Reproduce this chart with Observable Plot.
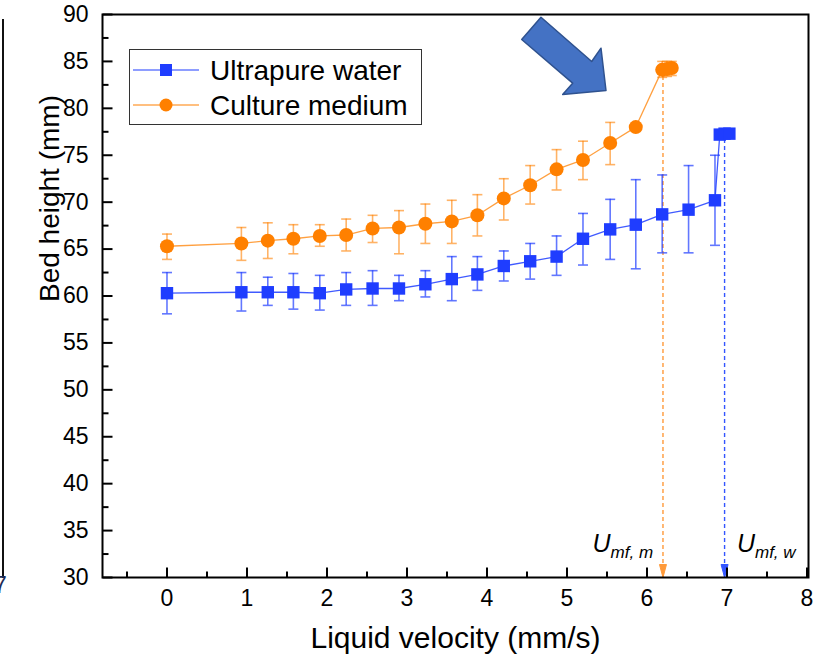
<!DOCTYPE html>
<html><head><meta charset="utf-8">
<script src="https://cdn.jsdelivr.net/npm/d3@7"></script>
<script src="https://cdn.jsdelivr.net/npm/@observablehq/plot@0.6"></script>
<style>
html,body{margin:0;padding:0;background:#fff;}
#wrap{position:relative;width:816px;height:661px;overflow:hidden;font-family:"Liberation Sans",Arial,sans-serif;background:#fff;}
#wrap svg{position:absolute;left:0;top:0;}
#edge{position:absolute;left:2px;top:19px;width:2px;height:559px;background:#111;}
#edge7{position:absolute;left:-6px;top:574px;font-size:23px;line-height:23px;color:#1d2b55;}
</style></head><body>
<div id="wrap"></div>
<script>
// ---- data ----
const velocityWater = [0, 0.93, 1.26, 1.58, 1.91, 2.24, 2.57, 2.9, 3.23, 3.56, 3.88, 4.21, 4.54, 4.87, 5.2, 5.54, 5.86, 6.19, 6.52, 6.85, 6.91, 6.97, 7.03];
const heightWater   = [60.3, 60.4, 60.4, 60.4, 60.3, 60.7, 60.8, 60.8, 61.25, 61.8, 62.3, 63.2, 63.7, 64.2, 66.1, 67.1, 67.6, 68.7, 69.2, 70.2, 77.2, 77.3, 77.3];
const highWater     = [62.5, 62.5, 62.0, 62.4, 62.2, 62.5, 62.7, 62.2, 62.7, 64.2, 64.2, 64.8, 65.6, 66.4, 68.8, 70.3, 72.4, 72.9, 73.9, 75.0, 77.6, 77.6, 77.6];
const lowWater      = [58.1, 58.4, 59.0, 58.6, 58.5, 59.0, 59.0, 59.5, 59.9, 59.5, 60.6, 61.6, 61.8, 62.2, 63.3, 63.9, 62.9, 64.6, 64.6, 65.4, 76.9, 77.0, 77.0];

const velocityMedium = [0, 0.93, 1.26, 1.58, 1.91, 2.24, 2.57, 2.9, 3.23, 3.56, 3.88, 4.21, 4.54, 4.87, 5.2, 5.54, 5.86, 6.19, 6.25, 6.31];
const heightMedium   = [65.3, 65.6, 65.9, 66.1, 66.4, 66.5, 67.2, 67.3, 67.7, 67.95, 68.6, 70.4, 71.8, 73.5, 74.5, 76.3, 78.0, 84.1, 84.2, 84.3];
const highMedium     = [66.6, 67.3, 67.8, 67.6, 67.6, 68.2, 68.6, 69.1, 69.8, 70.2, 70.8, 72.5, 73.9, 75.6, 76.5, 78.5, 78.2, 85.0, 85.0, 85.0];
const lowMedium      = [63.9, 63.8, 64.0, 64.5, 65.3, 64.8, 65.7, 64.5, 65.6, 65.6, 66.4, 68.1, 69.8, 71.3, 72.4, 74.0, 77.8, 83.3, 83.4, 83.5];

const seriesNames = ["Ultrapure water", "Culture medium"];
const xTickLabels = [0, 1, 2, 3, 4, 5, 6, 7, 8];
const xMinorTicks = [-0.5, 0.5, 1.5, 2.5, 3.5, 4.5, 5.5, 6.5, 7.5];
const yTickLabels = [30, 35, 40, 45, 50, 55, 60, 65, 70, 75, 80, 85, 90];
const yMinorTicks = [32.5, 37.5, 42.5, 47.5, 52.5, 57.5, 62.5, 67.5, 72.5, 77.5, 82.5, 87.5];

// minimum fluidization velocities (dashed markers) and their tops
const umfVelocity = [6.2, 6.97];
const umfTop      = [84.1, 77.2];
const umfNames    = ["mf, m", "mf, w"];
const umfLabelX   = [5.32, 7.125];

// block arrow annotation (data coordinates)
const arrowX = [4.675, 5.309, 5.425, 5.4875, 4.946, 5.071, 4.434, 4.675];
const arrowY = [89.71, 84.99, 86.41, 81.90, 81.47, 82.68, 87.34, 89.71];

const BLUE = "#1f3dff";
const ORANGE = "#ff8000";

const water = velocityWater.map((v, i) => ({v, h: heightWater[i], hi: highWater[i], lo: lowWater[i]}));
const medium = velocityMedium.map((v, i) => ({v, h: heightMedium[i], hi: highMedium[i], lo: lowMedium[i]}));
const umf = umfVelocity.map((x, i) => ({x, top: umfTop[i], name: umfNames[i], lx: umfLabelX[i], color: i === 0 ? "#ff9a3a" : "#3355ff"}));
const arrow = arrowX.map((x, i) => ({x, y: arrowY[i]}));

const cap = {draw(c) { c.moveTo(-5, 0); c.lineTo(5, 0); }};
const xMajor = {draw(c) { c.moveTo(0, 0); c.lineTo(0, -10); }};
const xMinor = {draw(c) { c.moveTo(0, 0); c.lineTo(0, -6); }};
const yMajor = {draw(c) { c.moveTo(0, 0); c.lineTo(10, 0); }};
const yMinor = {draw(c) { c.moveTo(0, 0); c.lineTo(6, 0); }};
const headDown = {draw(c) { c.moveTo(-3.5, -13); c.lineTo(3.5, -13); c.lineTo(0, 0); c.closePath(); }};

const X0 = -0.806, Y0 = 30;

const plot = Plot.plot({
  width: 816, height: 661,
  marginLeft: 102, marginRight: 8, marginTop: 14, marginBottom: 84,
  style: {fontFamily: "'Liberation Sans', Arial, sans-serif", fontSize: "23px", background: "transparent", color: "#000"},
  x: {domain: [X0, 8.019]},
  y: {domain: [30, 90]},
  marks: [
    // arrow annotation
    Plot.line(arrow, {x: "x", y: "y", fill: "#4472c4", stroke: "#2f528f", strokeWidth: 1.5}),
    // dashed Umf markers
    Plot.ruleX(umf, {x: "x", y1: Y0, y2: "top", stroke: "color", strokeDasharray: "4,3", strokeWidth: 1.4}),
    Plot.dot(umf, {x: "x", y: Y0, symbol: headDown, fill: "color", stroke: "color", strokeWidth: 1, r: 5}),
    // error bars
    Plot.ruleX(medium, {x: "v", y1: "lo", y2: "hi", stroke: ORANGE, strokeOpacity: 0.6, strokeWidth: 1.6}),
    Plot.dot(medium, {x: "v", y: "hi", symbol: cap, fill: "none", stroke: ORANGE, strokeOpacity: 0.6, strokeWidth: 1.6, r: 5}),
    Plot.dot(medium, {x: "v", y: "lo", symbol: cap, fill: "none", stroke: ORANGE, strokeOpacity: 0.6, strokeWidth: 1.6, r: 5}),
    Plot.ruleX(water, {x: "v", y1: "lo", y2: "hi", stroke: BLUE, strokeOpacity: 0.7, strokeWidth: 1.6}),
    Plot.dot(water, {x: "v", y: "hi", symbol: cap, fill: "none", stroke: BLUE, strokeOpacity: 0.7, strokeWidth: 1.6, r: 5}),
    Plot.dot(water, {x: "v", y: "lo", symbol: cap, fill: "none", stroke: BLUE, strokeOpacity: 0.7, strokeWidth: 1.6, r: 5}),
    // lines + symbols
    Plot.line(medium, {x: "v", y: "h", stroke: ORANGE, strokeOpacity: 0.75, strokeWidth: 1.3}),
    Plot.dot(medium, {x: "v", y: "h", symbol: "circle", r: 7, fill: ORANGE}),
    Plot.line(water, {x: "v", y: "h", stroke: BLUE, strokeOpacity: 0.85, strokeWidth: 1.3}),
    Plot.dot(water, {x: "v", y: "h", symbol: "square", r: 7, fill: BLUE}),
    // frame and inward ticks
    Plot.frame({stroke: "#000", strokeWidth: 2}),
    Plot.dot(xTickLabels, {x: d => d, y: Y0, symbol: xMajor, stroke: "#000", strokeWidth: 2, fill: "none", r: 5}),
    Plot.dot(xMinorTicks, {x: d => d, y: Y0, symbol: xMinor, stroke: "#000", strokeWidth: 2, fill: "none", r: 5}),
    Plot.dot(yTickLabels, {x: X0, y: d => d, symbol: yMajor, stroke: "#000", strokeWidth: 2, fill: "none", r: 5}),
    Plot.dot(yMinorTicks, {x: X0, y: d => d, symbol: yMinor, stroke: "#000", strokeWidth: 2, fill: "none", r: 5}),
    Plot.axisX({ticks: xTickLabels, tickSize: 0, tickPadding: 12, tickFormat: d => String(d), label: null}),
    Plot.axisY({ticks: yTickLabels, tickSize: 0, tickPadding: 14, tickFormat: d => String(d), label: null}),
    // axis titles
    Plot.text(["Liquid velocity (mm/s)"], {frameAnchor: "bottom", dy: 70, fontSize: 30, text: d => d}),
    Plot.text(["Bed height (mm)"], {frameAnchor: "left", dx: -52, dy: 6, rotate: -90, fontSize: 28, text: d => d}),
    // Umf labels
    Plot.text(umf, {x: "lx", y: Y0, text: () => "U", fontStyle: "italic", fontSize: 25, textAnchor: "start", lineAnchor: "bottom", dy: -26}),
    Plot.text(umf, {x: "lx", y: Y0, text: "name", fontStyle: "italic", fontSize: 17, textAnchor: "start", lineAnchor: "bottom", dx: 18, dy: -20})
  ]
});

// legend box inside the frame
const svg = d3.select(plot);
const lg = svg.append("g").attr("font-family", "'Liberation Sans', Arial, sans-serif").attr("text-anchor", "start");
lg.append("rect").attr("x", 129.5).attr("y", 49.5).attr("width", 292).attr("height", 75)
  .attr("fill", "#fff").attr("stroke", "#333").attr("stroke-width", 1);
const legendColors = [BLUE, ORANGE];
seriesNames.forEach((name, i) => {
  const y = 70 + i * 35;
  lg.append("line").attr("x1", 133).attr("x2", 199).attr("y1", y).attr("y2", y)
    .attr("stroke", legendColors[i]).attr("stroke-width", 1.2);
  if (i === 0) lg.append("rect").attr("x", 160).attr("y", y - 6).attr("width", 12).attr("height", 12).attr("fill", BLUE);
  else lg.append("circle").attr("cx", 166).attr("cy", y).attr("r", 6.5).attr("fill", ORANGE);
  lg.append("text").attr("x", 210).attr("y", y + 10).attr("font-size", 28).attr("fill", "#000")
    .attr("text-anchor", "start").text(name);
});

const wrap = document.getElementById("wrap");
wrap.appendChild(plot);
const edge = document.createElement("div"); edge.id = "edge"; wrap.appendChild(edge);
const e7 = document.createElement("div"); e7.id = "edge7"; e7.textContent = "7"; wrap.appendChild(e7);
</script>
</body></html>
